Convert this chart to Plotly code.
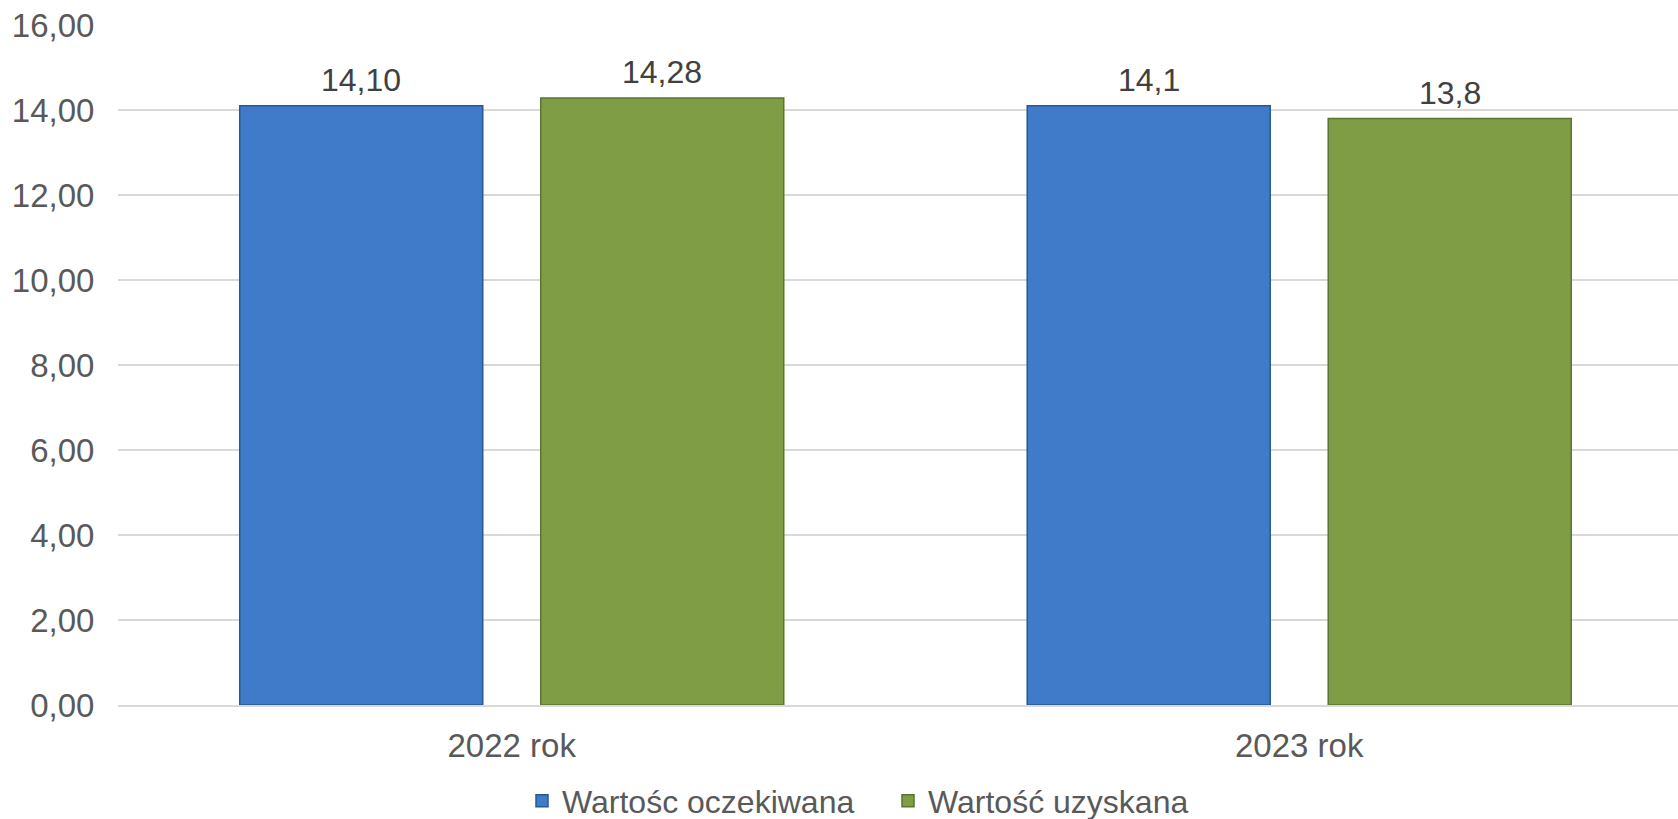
import plotly.graph_objects as go

categories = ["2022 rok", "2023 rok"]
series_names = ["Wartośc oczekiwana", "Wartość uzyskana"]
expected_values = [14.10, 14.1]
expected_labels = ["14,10", "14,1"]
obtained_values = [14.28, 13.8]
obtained_labels = ["14,28", "13,8"]
y_tick_values = [0, 2, 4, 6, 8, 10, 12, 14, 16]
y_tick_labels = ["0,00", "2,00", "4,00", "6,00", "8,00", "10,00", "12,00", "14,00", "16,00"]

FONT = "Liberation Sans, Arial, sans-serif"
BLUE = "#3f7bc9"
BLUE_EDGE = "#2b5790"
GREEN = "#7f9d45"
GREEN_EDGE = "#5b7530"

fig = go.Figure()
fig.add_trace(go.Bar(
    x=categories, y=expected_values, name=series_names[0],
    marker=dict(color=BLUE, line=dict(color=BLUE_EDGE, width=1.5)),
    hoverinfo="skip",
))
fig.add_trace(go.Bar(
    x=categories, y=obtained_values, name=series_names[1],
    marker=dict(color=GREEN, line=dict(color=GREEN_EDGE, width=1.5)),
    hoverinfo="skip",
))

bargap = 0.2355
bargroupgap = 0.1927
slot = (1 - bargap) / 2
offsets = [-slot / 2, slot / 2]
for s, (vals, labs) in enumerate([(expected_values, expected_labels), (obtained_values, obtained_labels)]):
    for i, (v, lab) in enumerate(zip(vals, labs)):
        fig.add_annotation(
            x=i + offsets[s], y=v, xref="x", yref="y",
            text=lab, showarrow=False, yanchor="bottom", yshift=6,
            font=dict(family=FONT, size=32, color="#404040"),
        )

fig.update_layout(
    width=1678, height=819,
    margin=dict(l=118, r=0, t=25, b=114, autoexpand=False),
    paper_bgcolor="white", plot_bgcolor="white",
    barmode="group", bargap=bargap, bargroupgap=bargroupgap,
    font=dict(family=FONT, size=32, color="#595959"),
    showlegend=True,
    legend=dict(
        orientation="h", xanchor="center", yanchor="middle",
        xref="container", yref="container",
        x=0.5292, y=0.022,
        font=dict(family=FONT, size=32, color="#595959"),
        entrywidth=321, entrywidthmode="pixels",
        itemclick=False, itemdoubleclick=False,
    ),
    xaxis=dict(
        type="category", range=[-0.5, 1.481], automargin=False,
        showgrid=False, showline=True, linecolor="#d9d9d9", linewidth=2,
        ticks="outside", ticklen=10, tickcolor="rgba(0,0,0,0)",
        tickfont=dict(family=FONT, size=33, color="#595959"),
        fixedrange=True,
    ),
    yaxis=dict(
        range=[0, 16], tickvals=y_tick_values, ticktext=y_tick_labels,
        automargin=False,
        showgrid=True, gridcolor="#d9d9d9", gridwidth=1.5,
        zeroline=False, showline=False,
        ticks="outside", ticklen=16, tickcolor="rgba(0,0,0,0)",
        tickfont=dict(family=FONT, size=33, color="#595959"),
        fixedrange=True,
    ),
)

fig.write_html(
    "out.html",
    config={"displayModeBar": False},
    post_script="document.body.style.margin='0';document.body.style.overflow='hidden';",
)
